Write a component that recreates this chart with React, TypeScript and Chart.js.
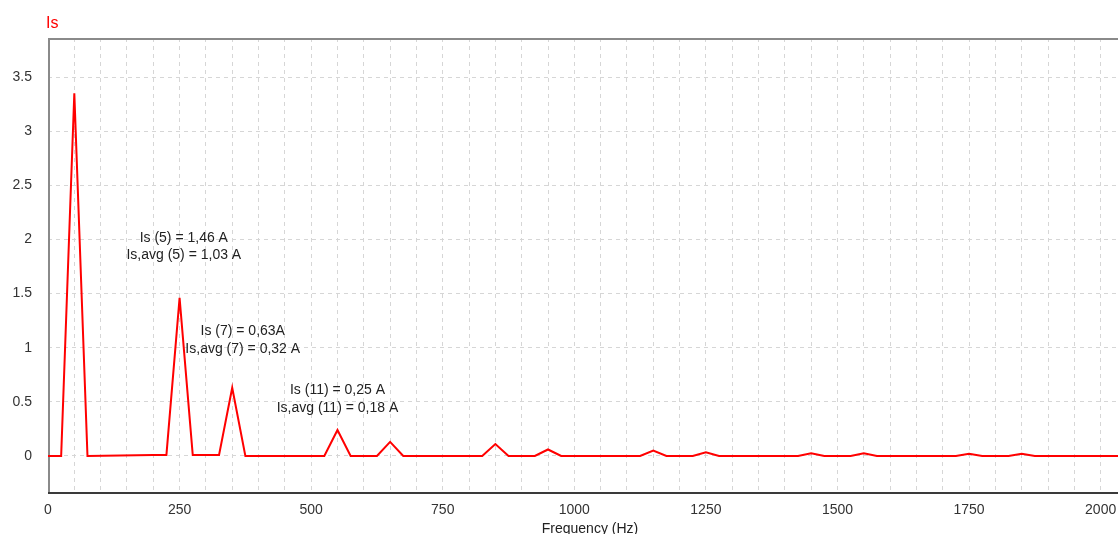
import React, { useEffect, useRef } from "react";
import { Chart, registerables } from "chart.js";

Chart.register(...registerables);

// Spectrum break points (Hz) and current amplitude (A)
const freqHz = [0, 25, 50, 75, 200, 225, 250, 275, 325, 350, 375, 525, 550, 575, 625, 650, 675, 825, 850, 875, 925, 950, 975, 1125, 1150, 1175, 1225, 1250, 1275, 1425, 1450, 1475, 1525, 1550, 1575, 1725, 1750, 1775, 1825, 1850, 1875, 2050];
const currentA = [0, 0, 3.35, 0, 0.01, 0.01, 1.46, 0.01, 0.01, 0.63, 0, 0, 0.24, 0, 0, 0.13, 0, 0, 0.11, 0, 0, 0.06, 0, 0, 0.05, 0, 0, 0.035, 0, 0, 0.025, 0, 0, 0.025, 0, 0, 0.02, 0, 0, 0.02, 0, 0];

const xTickLabels = [0, 250, 500, 750, 1000, 1250, 1500, 1750, 2000];
const yTickLabels = [0, 0.5, 1, 1.5, 2, 2.5, 3, 3.5];

const annotationLines = [
  ["Is (5) = 1,46 A", "Is,avg (5) = 1,03 A"],
  ["Is (7) = 0,63A", "Is,avg (7) = 0,32 A"],
  ["Is (11) = 0,25 A", "Is,avg (11) = 0,18 A"],
];
const annotationX = [258, 370, 550];
const annotationY = [1.98, 1.117, 0.568];

const seriesTitle = "Is";
const xAxisTitle = "Frequency (Hz)";

const FONT = "'Liberation Sans', Arial, sans-serif";

const overlay = {
  id: "overlay",
  beforeDatasetsDraw(chart: any) {
    const { ctx, chartArea } = chart;
    const { left, top, right, bottom } = chartArea;
    ctx.save();
    ctx.lineWidth = 2;
    ctx.strokeStyle = "#8a8a8a";
    ctx.beginPath();
    ctx.moveTo(left, top + 1);
    ctx.lineTo(right, top + 1);
    ctx.stroke();
    ctx.beginPath();
    ctx.moveTo(left + 1, top);
    ctx.lineTo(left + 1, bottom);
    ctx.stroke();
    ctx.strokeStyle = "#3a3a3a";
    ctx.beginPath();
    ctx.moveTo(left, bottom);
    ctx.lineTo(right, bottom);
    ctx.stroke();
    ctx.restore();
  },
  afterDraw(chart: any) {
    const { ctx, scales } = chart;
    ctx.save();
    ctx.fillStyle = "#ff0000";
    ctx.font = `16px ${FONT}`;
    ctx.textAlign = "left";
    ctx.textBaseline = "alphabetic";
    ctx.fillText(seriesTitle, 46, 28);

    ctx.fillStyle = "#222";
    ctx.font = `14px ${FONT}`;
    ctx.textAlign = "center";
    annotationLines.forEach((lines, i) => {
      const px = scales.x.getPixelForValue(annotationX[i]);
      const py = scales.y.getPixelForValue(annotationY[i]);
      lines.forEach((t, j) => ctx.fillText(t, px, py + j * 17.6));
    });

    ctx.fillText(xAxisTitle, 590, 533);
    ctx.restore();
  },
};

export default function App() {
  const ref = useRef<HTMLCanvasElement>(null);
  useEffect(() => {
    if (!ref.current) return;
    const points = freqHz.map((f, i) => ({ x: f, y: currentA[i] }));
    const chart = new Chart(ref.current, {
      type: "line",
      data: {
        datasets: [
          {
            data: points,
            borderColor: "#ff0000",
            borderWidth: 2,
            pointRadius: 0,
            tension: 0,
            fill: false,
          },
        ],
      },
      options: {
        animation: false,
        responsive: false,
        layout: { padding: { top: 38, left: 0, right: 0, bottom: 0 } },
        plugins: { legend: { display: false }, tooltip: { enabled: false } },
        scales: {
          x: {
            type: "linear",
            min: 0,
            max: 2033,
            afterFit: (s: any) => {
              s.height = 41;
              s.paddingLeft = 0;
              s.paddingRight = 0;
            },
            border: { display: false, dash: [4, 4] },
            grid: { color: "#d6d6d6", lineWidth: 1, drawTicks: false },
            ticks: {
              stepSize: 50,
              includeBounds: false,
              autoSkip: false,
              maxRotation: 0,
              padding: 9,
              color: "#333",
              font: { family: FONT, size: 14 },
              callback: (v: any) => (xTickLabels.includes(Number(v)) ? String(v) : ""),
            },
          },
          y: {
            type: "linear",
            min: -0.342,
            max: 3.861,
            afterFit: (s: any) => {
              s.width = 48;
              s.paddingTop = 0;
              s.paddingBottom = 0;
            },
            border: { display: false, dash: [4, 4] },
            grid: { color: "#d6d6d6", lineWidth: 1, drawTicks: false },
            ticks: {
              stepSize: 0.5,
              includeBounds: false,
              padding: 16,
              color: "#333",
              font: { family: FONT, size: 14 },
              callback: (v: any) => (yTickLabels.includes(Number(v)) ? String(v) : ""),
            },
          },
        },
      },
      plugins: [overlay],
    });
    return () => chart.destroy();
  }, []);
  return (
    <div style={{ position: "absolute", left: 0, top: 0, width: 1118, height: 534 }}>
      <canvas ref={ref} width={1118} height={534} style={{ display: "block" }} />
    </div>
  );
}
